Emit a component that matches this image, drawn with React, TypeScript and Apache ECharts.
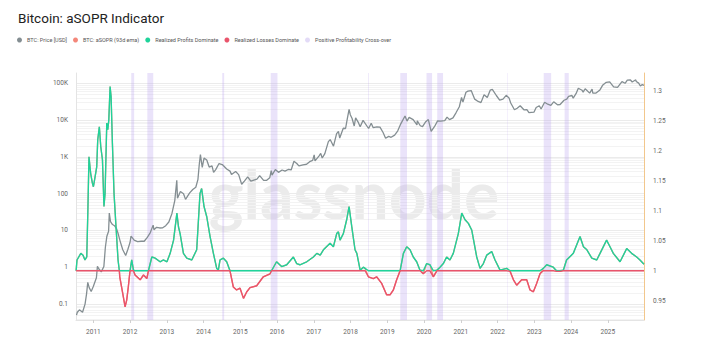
import React, { useEffect, useRef } from "react";
import * as echarts from "echarts";

const TITLE = "Bitcoin: aSOPR Indicator";
const NAME_PRICE = "BTC: Price [USD]";
const NAME_ASOPR = "BTC: aSOPR (93d ema)";
const NAME_PROFIT = "Realized Profits Dominate";
const NAME_LOSS = "Realized Losses Dominate";
const NAME_CROSS = "Positive Profitability Cross-over";

const YEAR_TICKS = [2011, 2012, 2013, 2014, 2015, 2016, 2017, 2018, 2019, 2020, 2021, 2022, 2023, 2024, 2025];
const PRICE_TICKS = [0.1, 1, 10, 100, 1000, 10000, 100000];
const ASOPR_TICKS = [0.95, 1, 1.05, 1.1, 1.15, 1.2, 1.25, 1.3];

const PRICE: [string, number][] = [
  ["2010-07-17", 0.05], ["2010-07-25", 0.06], ["2010-08-15", 0.07], ["2010-09-15", 0.06],
  ["2010-10-10", 0.1], ["2010-10-25", 0.19], ["2010-11-06", 0.39], ["2010-11-20", 0.28],
  ["2010-12-10", 0.22], ["2010-12-31", 0.3], ["2011-01-31", 0.52], ["2011-02-10", 1.06],
  ["2011-02-25", 0.9], ["2011-03-20", 0.75], ["2011-04-15", 1.05], ["2011-04-30", 3.5],
  ["2011-05-15", 7], ["2011-06-01", 9.5], ["2011-06-08", 29.6], ["2011-06-20", 17.5],
  ["2011-07-10", 14.5], ["2011-07-30", 13.5], ["2011-08-20", 11], ["2011-09-05", 8],
  ["2011-09-25", 5], ["2011-10-20", 3], ["2011-11-18", 2.1], ["2011-12-10", 3.1],
  ["2011-12-31", 4.7], ["2012-01-10", 7], ["2012-02-10", 5.5], ["2012-03-15", 5],
  ["2012-04-20", 5.1], ["2012-05-20", 5.1], ["2012-06-20", 6.5], ["2012-07-20", 8.8],
  ["2012-08-17", 14], ["2012-08-25", 10.5], ["2012-09-20", 12.2], ["2012-10-20", 11.7],
  ["2012-11-20", 11.8], ["2012-12-20", 13.5], ["2013-01-20", 17], ["2013-02-20", 29],
  ["2013-03-20", 65], ["2013-04-09", 230], ["2013-04-16", 75], ["2013-05-15", 115],
  ["2013-06-15", 100], ["2013-07-05", 70], ["2013-08-15", 105], ["2013-09-15", 130],
  ["2013-10-15", 150], ["2013-11-05", 240], ["2013-11-18", 600], ["2013-11-30", 1150],
  ["2013-12-18", 520], ["2014-01-05", 930], ["2014-02-01", 820], ["2014-02-25", 530],
  ["2014-03-25", 570], ["2014-04-10", 380], ["2014-05-01", 450], ["2014-06-03", 660],
  ["2014-07-05", 620], ["2014-08-18", 470], ["2014-09-20", 410], ["2014-10-05", 330],
  ["2014-11-15", 400], ["2014-12-15", 330], ["2015-01-14", 180], ["2015-02-10", 220],
  ["2015-03-15", 285], ["2015-04-15", 220], ["2015-05-15", 235], ["2015-06-15", 250],
  ["2015-07-12", 310], ["2015-08-20", 230], ["2015-09-20", 230], ["2015-10-20", 270],
  ["2015-11-04", 420], ["2015-11-12", 320], ["2015-12-15", 455], ["2016-01-15", 380],
  ["2016-02-20", 440], ["2016-03-20", 410], ["2016-04-25", 460], ["2016-05-20", 440],
  ["2016-06-17", 760], ["2016-07-15", 660], ["2016-08-05", 570], ["2016-09-15", 610],
  ["2016-10-20", 630], ["2016-11-20", 740], ["2016-12-20", 800], ["2017-01-04", 1130],
  ["2017-01-12", 780], ["2017-02-20", 1050], ["2017-03-10", 1240], ["2017-03-25", 930],
  ["2017-04-20", 1230], ["2017-05-25", 2600], ["2017-06-12", 2950], ["2017-07-15", 1950],
  ["2017-08-15", 4300], ["2017-09-02", 4900], ["2017-09-15", 3250], ["2017-10-20", 6000],
  ["2017-11-12", 5900], ["2017-11-29", 10800], ["2017-12-17", 19500], ["2017-12-29", 14000],
  ["2018-01-16", 11000], ["2018-02-06", 6900], ["2018-02-20", 11500], ["2018-03-20", 8500],
  ["2018-04-06", 6600], ["2018-05-05", 9800], ["2018-06-29", 5900], ["2018-07-25", 8200],
  ["2018-08-14", 6200], ["2018-09-20", 6500], ["2018-10-20", 6400], ["2018-11-20", 4600],
  ["2018-12-15", 3200], ["2019-01-15", 3600], ["2019-02-08", 3400], ["2019-03-15", 3900],
  ["2019-04-15", 5100], ["2019-05-15", 7900], ["2019-06-26", 12900], ["2019-07-16", 9400],
  ["2019-08-06", 11800], ["2019-09-15", 10300], ["2019-10-23", 7400], ["2019-10-26", 9500],
  ["2019-11-25", 7000], ["2019-12-17", 6600], ["2020-01-15", 8800], ["2020-02-13", 10300],
  ["2020-03-12", 4900], ["2020-04-15", 6700], ["2020-05-15", 9500], ["2020-06-15", 9400],
  ["2020-07-25", 9600], ["2020-08-17", 12000], ["2020-09-10", 10300], ["2020-10-15", 11500],
  ["2020-11-15", 16000], ["2020-12-17", 23000], ["2021-01-08", 41000], ["2021-01-22", 30800],
  ["2021-02-21", 57000], ["2021-03-13", 61000], ["2021-04-14", 63500], ["2021-05-19", 37000],
  ["2021-06-22", 32000], ["2021-07-20", 29800], ["2021-08-20", 49000], ["2021-09-21", 41000],
  ["2021-10-20", 65000], ["2021-11-10", 68000], ["2021-12-20", 46500], ["2022-01-22", 35000],
  ["2022-02-24", 37000], ["2022-03-28", 47000], ["2022-04-25", 40000], ["2022-05-12", 29000],
  ["2022-06-18", 19000], ["2022-07-15", 21000], ["2022-08-14", 24400], ["2022-09-20", 19000],
  ["2022-10-20", 19200], ["2022-11-09", 16000], ["2022-12-30", 16500], ["2023-01-20", 22000],
  ["2023-02-20", 24500], ["2023-03-10", 20000], ["2023-04-14", 30500], ["2023-05-15", 27000],
  ["2023-06-15", 25000], ["2023-07-13", 31400], ["2023-08-20", 26000], ["2023-09-15", 26500],
  ["2023-10-24", 34500], ["2023-11-20", 37000], ["2023-12-08", 44000], ["2024-01-11", 46500],
  ["2024-01-23", 39500], ["2024-02-20", 52000], ["2024-03-14", 73000], ["2024-04-20", 64500],
  ["2024-05-01", 57500], ["2024-05-21", 71000], ["2024-07-05", 54000], ["2024-07-29", 69000],
  ["2024-08-05", 54000], ["2024-09-06", 54000], ["2024-10-15", 66000], ["2024-11-13", 90000],
  ["2024-12-17", 106000], ["2025-01-20", 109000], ["2025-02-28", 80000], ["2025-04-08", 77000],
  ["2025-05-22", 111000], ["2025-06-22", 100000], ["2025-07-14", 121000], ["2025-08-14", 123000],
  ["2025-09-01", 108000], ["2025-10-06", 124000], ["2025-10-11", 112000], ["2025-11-04", 101000],
  ["2025-11-21", 84000], ["2025-12-10", 92000], ["2025-12-27", 87500],
];

const ASOPR: [string, number][] = [
  ["2010-07-13", 1.0], ["2010-07-22", 1.018], ["2010-08-29", 1.029], ["2010-09-20", 1.026],
  ["2010-10-09", 1.018], ["2010-10-27", 1.023], ["2010-11-07", 1.1], ["2010-11-18", 1.19],
  ["2010-12-05", 1.162], ["2010-12-22", 1.146], ["2011-01-01", 1.14], ["2011-01-18", 1.157],
  ["2011-02-03", 1.173], ["2011-02-13", 1.218], ["2011-03-01", 1.24], ["2011-03-15", 1.207],
  ["2011-04-01", 1.185], ["2011-04-16", 1.107], ["2011-04-27", 1.129], ["2011-05-14", 1.246],
  ["2011-05-24", 1.235], ["2011-06-03", 1.251], ["2011-06-16", 1.307], ["2011-06-26", 1.29],
  ["2011-07-09", 1.212], ["2011-07-25", 1.129], ["2011-08-14", 1.073], ["2011-09-03", 1.018],
  ["2011-09-16", 1.0], ["2011-09-20", 0.99], ["2011-10-20", 0.962], ["2011-11-12", 0.94],
  ["2011-11-28", 0.951], ["2011-12-14", 0.973], ["2011-12-31", 1.0], ["2012-01-17", 1.018],
  ["2012-02-03", 1.001], ["2012-02-19", 0.993], ["2012-04-10", 0.985], ["2012-05-13", 0.993],
  ["2012-06-15", 0.987], ["2012-07-01", 1.0], ["2012-08-04", 1.023], ["2012-09-06", 1.021],
  ["2012-10-25", 1.015], ["2012-11-27", 1.018], ["2013-01-01", 1.015], ["2013-02-02", 1.029],
  ["2013-03-08", 1.051], ["2013-04-10", 1.096], ["2013-04-26", 1.073], ["2013-05-12", 1.062],
  ["2013-06-14", 1.029], ["2013-07-17", 1.021], ["2013-09-05", 1.018], ["2013-10-24", 1.035],
  ["2013-11-26", 1.129], ["2013-12-12", 1.137], ["2014-01-05", 1.107], ["2014-02-01", 1.09],
  ["2014-03-06", 1.057], ["2014-04-08", 1.029], ["2014-05-11", 1.004], ["2014-05-27", 1.001],
  ["2014-06-13", 1.018], ["2014-07-16", 1.021], ["2014-08-18", 1.015], ["2014-09-20", 1.0],
  ["2014-10-23", 0.973], ["2014-11-25", 0.968], ["2014-12-29", 0.971], ["2015-02-01", 0.954],
  ["2015-03-06", 0.965], ["2015-04-07", 0.972], ["2015-06-12", 0.975], ["2015-08-17", 0.99],
  ["2015-10-23", 0.995], ["2015-11-07", 1.0], ["2015-12-27", 1.015], ["2016-02-15", 1.007],
  ["2016-04-06", 1.01], ["2016-06-11", 1.023], ["2016-07-14", 1.012], ["2016-08-16", 1.01],
  ["2016-10-22", 1.015], ["2016-12-27", 1.023], ["2017-01-30", 1.029], ["2017-03-05", 1.026],
  ["2017-04-06", 1.035], ["2017-06-11", 1.046], ["2017-07-14", 1.04], ["2017-08-16", 1.062],
  ["2017-09-02", 1.065], ["2017-09-18", 1.051], ["2017-10-21", 1.062], ["2017-11-23", 1.085],
  ["2017-12-17", 1.107], ["2018-01-13", 1.073], ["2018-02-14", 1.035], ["2018-03-04", 1.029],
  ["2018-04-06", 1.001], ["2018-05-08", 1.006], ["2018-05-25", 1.004], ["2018-06-27", 0.99],
  ["2018-08-15", 0.987], ["2018-09-17", 0.99], ["2018-11-06", 0.979], ["2018-12-25", 0.96],
  ["2019-01-28", 0.96], ["2019-03-02", 0.968], ["2019-04-04", 0.985], ["2019-05-08", 1.0],
  ["2019-06-10", 1.029], ["2019-07-13", 1.04], ["2019-08-15", 1.035], ["2019-09-16", 1.023],
  ["2019-10-20", 1.015], ["2019-11-22", 1.001], ["2019-12-25", 0.995], ["2020-01-27", 1.012],
  ["2020-02-29", 1.01], ["2020-04-03", 0.99], ["2020-05-08", 1.001], ["2020-06-08", 1.006],
  ["2020-07-11", 1.012], ["2020-08-13", 1.023], ["2020-09-15", 1.018], ["2020-10-18", 1.029],
  ["2020-12-07", 1.062], ["2021-01-10", 1.096], ["2021-02-12", 1.085], ["2021-03-17", 1.079],
  ["2021-04-19", 1.068], ["2021-06-08", 1.023], ["2021-07-11", 1.004], ["2021-08-13", 1.012],
  ["2021-09-15", 1.026], ["2021-11-04", 1.032], ["2021-12-07", 1.018], ["2022-01-26", 1.001],
  ["2022-04-02", 1.004], ["2022-05-06", 0.999], ["2022-06-08", 0.985], ["2022-07-10", 0.976],
  ["2022-08-29", 0.985], ["2022-10-18", 0.985], ["2022-11-20", 0.968], ["2022-12-23", 0.965],
  ["2023-01-25", 0.979], ["2023-02-27", 0.995], ["2023-04-01", 1.004], ["2023-05-05", 1.01],
  ["2023-07-09", 1.006], ["2023-08-11", 0.999], ["2023-09-13", 0.999], ["2023-10-17", 1.001],
  ["2023-11-18", 1.018], ["2024-01-24", 1.029], ["2024-03-31", 1.057], ["2024-05-04", 1.04],
  ["2024-06-07", 1.035], ["2024-07-26", 1.021], ["2024-09-13", 1.018], ["2024-10-16", 1.029],
  ["2024-12-20", 1.051], ["2025-01-23", 1.04], ["2025-02-25", 1.029], ["2025-05-03", 1.015],
  ["2025-07-08", 1.037], ["2025-08-26", 1.029], ["2025-10-15", 1.023], ["2025-11-17", 1.018],
  ["2025-12-27", 1.011],
];

const CROSSOVER_BANDS: [string, string][] = [
  ["2012-01-12", "2012-02-10"],
  ["2012-06-20", "2012-08-18"],
  ["2014-07-05", "2014-07-24"],
  ["2015-10-30", "2016-01-05"],
  ["2018-06-24", "2018-07-01"],
  ["2019-05-10", "2019-07-16"],
  ["2020-01-26", "2020-03-21"],
  ["2020-05-11", "2020-07-08"],
  ["2022-04-05", "2022-04-10"],
  ["2023-04-05", "2023-06-18"],
  ["2023-10-30", "2023-12-10"],
];

const X_MIN = "2010-07-12";
const X_MAX = "2025-12-27";
const BASELINE = 1;

const ts = (s: string) => {
  const [y, m, d] = s.split("-").map(Number);
  return Date.UTC(y, m - 1, d);
};

const FONT = "Roboto";

export default function App() {
  const ref = useRef<HTMLDivElement>(null);
  useEffect(() => {
    document.body.style.margin = "0";
    if (!ref.current) return;
    const chart = echarts.init(ref.current, undefined, { renderer: "svg" });

    const gridValues: { v: number; major: boolean }[] = [];
    for (let n = -2; n <= 5; n++) {
      for (let k = 1; k <= 9; k++) {
        const v = Number((k * Math.pow(10, n)).toPrecision(3));
        if (v >= 0.037 && v <= 190000) gridValues.push({ v, major: k === 1 });
      }
    }

    const asoprData = ASOPR.map(([d, v]) => [ts(d), v]);
    const profitData = ASOPR.map(([d, v]) => [ts(d), Math.max(v, BASELINE)]);
    const lossData = ASOPR.map(([d, v]) => [ts(d), Math.min(v, BASELINE)]);
    const yearValues = YEAR_TICKS.map((y) => Date.UTC(y, 0, 1));

    chart.setOption({
      animation: false,
      textStyle: { fontFamily: FONT },
      title: {
        text: TITLE,
        left: 13,
        top: 6,
        textStyle: { fontSize: 13.5, fontWeight: "normal", color: "#222", fontFamily: FONT },
      },
      legend: {
        top: 37,
        left: 17,
        icon: "circle",
        itemWidth: 5,
        itemHeight: 5,
        itemGap: 6,
        padding: 0,
        textStyle: { fontSize: 5.5, color: "#555", fontFamily: FONT },
        data: [NAME_PRICE, NAME_ASOPR, NAME_PROFIT, NAME_LOSS, NAME_CROSS],
      },
      graphic: [
        {
          type: "text",
          z: 0,
          x: 354,
          y: 193,
          silent: true,
          style: {
            text: "glassnode",
            fontSize: 66,
            fontFamily: "Lato",
            fontWeight: "bold",
            fill: "#ebebeb",
            align: "center",
            verticalAlign: "middle",
          },
        },
      ],
      grid: { left: 76, right: 72, top: 73, bottom: 36 },
      xAxis: {
        type: "value",
        min: ts(X_MIN),
        max: ts(X_MAX),
        axisLine: { show: true, lineStyle: { color: "#e4e4e4" } },
        axisTick: {
          show: true,
          length: 3,
          lineStyle: { color: "#d0d0d0" },
          customValues: yearValues,
        },
        splitLine: { show: false },
        axisLabel: {
          customValues: yearValues,
          formatter: (v: number) => String(new Date(v).getUTCFullYear()),
          fontSize: 6.5,
          color: "#666",
          margin: 8,
          fontFamily: FONT,
        },
      },
      yAxis: [
        {
          type: "log",
          logBase: 10,
          min: 0.037,
          max: 190000,
          position: "left",
          axisLine: { show: true, lineStyle: { color: "#e4e4e4" } },
          axisTick: { show: false },
          splitLine: { show: false },
          axisLabel: {
            customValues: PRICE_TICKS,
            formatter: (v: number) => {
              const r = Number(Number(v).toPrecision(3));
              return r >= 1000 ? r / 1000 + "K" : String(r);
            },
            fontSize: 6.5,
            color: "#666",
            margin: 8,
            fontFamily: FONT,
          },
        },
        {
          type: "value",
          min: 0.918,
          max: 1.3295,
          position: "right",
          axisLine: { show: true, lineStyle: { color: "#f2c78c" } },
          axisTick: { show: false },
          splitLine: { show: false },
          axisLabel: {
            customValues: ASOPR_TICKS,
            formatter: (v: number) => String(Number(Number(v).toFixed(2))),
            fontSize: 6.5,
            color: "#666",
            margin: 9,
            fontFamily: FONT,
          },
        },
      ],
      series: [
        {
          name: NAME_CROSS,
          type: "line",
          yAxisIndex: 0,
          data: [],
          z: 1,
          itemStyle: { color: "#e3dbf7" },
          lineStyle: { color: "#e3dbf7" },
          markArea: {
            silent: true,
            z: 1,
            itemStyle: { color: "rgba(185,163,238,0.3)" },
            data: CROSSOVER_BANDS.map(([a, b]) => [{ xAxis: ts(a) }, { xAxis: ts(b) }]),
          },
          markLine: {
            silent: true,
            z: 0,
            symbol: ["none", "none"],
            label: { show: false },
            data: gridValues.map((g) => ({
              yAxis: g.v,
              lineStyle: { color: g.major ? "#ebebeb" : "#f3f3f3", width: 1, type: "solid" },
            })),
          },
        },
        {
          name: NAME_PRICE,
          type: "line",
          yAxisIndex: 0,
          showSymbol: false,
          z: 3,
          color: "#848e92",
          lineStyle: { width: 1.3, color: "#848e92" },
          data: PRICE.map(([d, v]) => [ts(d), v]),
        },
        {
          name: NAME_ASOPR,
          type: "line",
          yAxisIndex: 1,
          showSymbol: false,
          z: 2,
          color: "#f4877a",
          lineStyle: { width: 1.3, color: "#f4877a" },
          data: asoprData,
        },
        {
          name: NAME_PROFIT,
          type: "line",
          yAxisIndex: 1,
          showSymbol: false,
          z: 4,
          color: "#1fd39a",
          lineStyle: { width: 1.4, color: "#1fd39a" },
          data: profitData,
        },
        {
          name: NAME_LOSS,
          type: "line",
          yAxisIndex: 1,
          showSymbol: false,
          z: 5,
          color: "#e9546b",
          lineStyle: { width: 1.4, color: "#e9546b" },
          data: lossData,
        },
      ],
    });
    return () => chart.dispose();
  }, []);
  return <div ref={ref} style={{ width: 716, height: 356 }} />;
}
